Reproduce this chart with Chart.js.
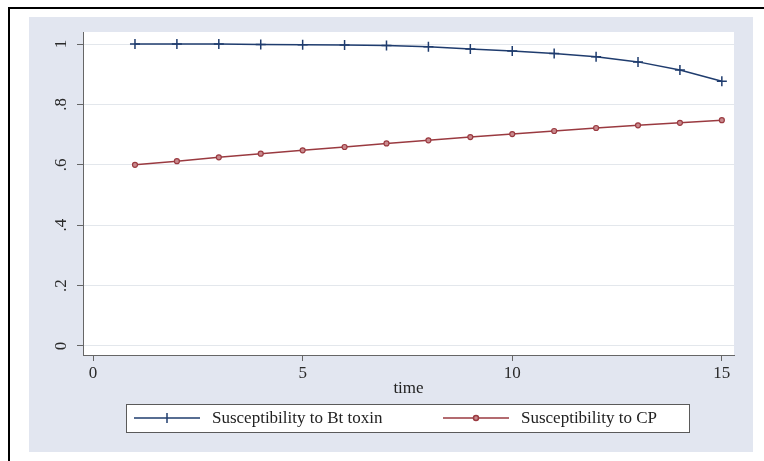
<!DOCTYPE html>
<html>
<head>
<meta charset="utf-8">
<script src="https://cdn.jsdelivr.net/npm/chart.js@4.4.1/dist/chart.umd.min.js"></script>
<style>
  html, body { margin: 0; padding: 0; background: #ffffff; }
  #wrap { width: 764px; height: 461px; }
</style>
</head>
<body>
<div id="wrap"><canvas id="c" width="764" height="461"></canvas></div>
<script>
// Time steps and the two susceptibility series
const time = [1, 2, 3, 4, 5, 6, 7, 8, 9, 10, 11, 12, 13, 14, 15];
const btToxin = [1.000, 1.000, 1.000, 0.999, 0.998, 0.997, 0.995, 0.991, 0.984, 0.977, 0.969, 0.958, 0.941, 0.914, 0.877];
const cpSusc = [0.600, 0.612, 0.625, 0.637, 0.648, 0.659, 0.671, 0.681, 0.692, 0.702, 0.712, 0.722, 0.731, 0.739, 0.748];

const seriesLabels = ['Susceptibility to Bt toxin', 'Susceptibility to CP'];
const xTicks = [0, 5, 10, 15];
const yTicks = [0, 0.2, 0.4, 0.6, 0.8, 1];
const yTickText = ['0', '.2', '.4', '.6', '.8', '1'];
const xTitle = 'time';

const NAVY = '#1f3c6e';
const MAROON = '#9a3a40';
const REGION = '#e2e6f0';
const SERIF = '"Liberation Serif", "Times New Roman", serif';

// Page frame, outer region and white plot area
const backdrop = {
  id: 'backdrop',
  beforeDraw(chart) {
    const ctx = chart.ctx;
    const a = chart.chartArea;
    ctx.save();
    ctx.fillStyle = '#ffffff';
    ctx.fillRect(0, 0, chart.width, chart.height);
    ctx.strokeStyle = '#000000';
    ctx.lineWidth = 2;
    ctx.beginPath();
    ctx.moveTo(9, chart.height);
    ctx.lineTo(9, 8);
    ctx.lineTo(chart.width, 8);
    ctx.stroke();
    ctx.fillStyle = REGION;
    ctx.fillRect(29, 17, 724, 435);
    ctx.fillStyle = '#ffffff';
    ctx.fillRect(a.left, a.top, a.right - a.left, a.bottom - a.top);
    ctx.restore();
  }
};

// Boxed legend below the axis, built from the dataset styles
const boxedLegend = {
  id: 'boxedLegend',
  afterDraw(chart) {
    const ctx = chart.ctx;
    const box = { x: 126, y: 404, w: 563, h: 28 };
    ctx.save();
    ctx.fillStyle = '#ffffff';
    ctx.fillRect(box.x, box.y, box.w, box.h);
    ctx.strokeStyle = '#5a5a5a';
    ctx.lineWidth = 1;
    ctx.strokeRect(box.x + 0.5, box.y + 0.5, box.w, box.h);
    const cy = box.y + box.h / 2;
    const starts = [134, 443];
    chart.data.datasets.forEach((ds, i) => {
      const x0 = starts[i];
      const x1 = x0 + 66;
      ctx.strokeStyle = ds.borderColor;
      ctx.lineWidth = 1.5;
      ctx.beginPath();
      ctx.moveTo(x0, cy);
      ctx.lineTo(x1, cy);
      ctx.stroke();
      const mx = (x0 + x1) / 2;
      if (ds.pointStyle === 'cross') {
        ctx.beginPath();
        ctx.moveTo(mx, cy - 5);
        ctx.lineTo(mx, cy + 5);
        ctx.stroke();
      } else {
        ctx.fillStyle = ds.pointBackgroundColor;
        ctx.beginPath();
        ctx.arc(mx, cy, 2.5, 0, Math.PI * 2);
        ctx.fill();
        ctx.stroke();
      }
      ctx.fillStyle = '#222222';
      ctx.font = '17px ' + SERIF;
      ctx.textBaseline = 'middle';
      ctx.textAlign = 'left';
      ctx.fillText(ds.label, x1 + 12, cy + 1);
    });
    ctx.restore();
  }
};

const toPoints = (xs, ys) => xs.map((x, i) => ({ x: x, y: ys[i] }));

new Chart(document.getElementById('c'), {
  type: 'line',
  data: {
    datasets: [
      {
        label: seriesLabels[0],
        data: toPoints(time, btToxin),
        borderColor: NAVY,
        borderWidth: 1.5,
        pointStyle: 'cross',
        pointRadius: 5,
        pointBorderWidth: 1.5,
        pointBorderColor: NAVY,
        pointBackgroundColor: NAVY,
        tension: 0
      },
      {
        label: seriesLabels[1],
        data: toPoints(time, cpSusc),
        borderColor: MAROON,
        borderWidth: 1.5,
        pointStyle: 'circle',
        pointRadius: 2.5,
        pointBorderWidth: 1.2,
        pointBorderColor: MAROON,
        pointBackgroundColor: '#c98a8e',
        tension: 0
      }
    ]
  },
  options: {
    responsive: false,
    animation: false,
    devicePixelRatio: 1,
    layout: { padding: { left: 29, right: 30, top: 32, bottom: 62 } },
    plugins: {
      legend: { display: false },
      tooltip: { enabled: false }
    },
    scales: {
      x: {
        type: 'linear',
        min: -0.24,
        max: 15.29,
        afterBuildTicks(scale) { scale.ticks = xTicks.map(v => ({ value: v })); },
        afterFit(scale) { scale.height = 44; },
        border: { display: true, color: '#666666', width: 1 },
        grid: { drawOnChartArea: false, drawTicks: true, tickLength: 6, tickColor: '#666666' },
        ticks: {
          color: '#2a2a2a',
          font: { family: SERIF, size: 17 },
          padding: 2,
          maxRotation: 0,
          minRotation: 0
        },
        title: {
          display: true,
          text: xTitle,
          color: '#222222',
          font: { family: SERIF, size: 17 },
          padding: { top: 0, bottom: 0 }
        }
      },
      y: {
        type: 'linear',
        min: -0.03,
        max: 1.04,
        afterBuildTicks(scale) { scale.ticks = yTicks.map(v => ({ value: v })); },
        afterFit(scale) { scale.width = 54; },
        border: { display: true, color: '#666666', width: 1 },
        grid: { color: '#e3e7ec', lineWidth: 1, drawTicks: true, tickLength: 6, tickColor: '#666666' },
        ticks: {
          color: '#2a2a2a',
          font: { family: SERIF, size: 17 },
          minRotation: 90,
          maxRotation: 90,
          crossAlign: 'center',
          padding: 9,
          callback(value) {
            const i = yTicks.findIndex(t => Math.abs(t - value) < 1e-9);
            return i >= 0 ? yTickText[i] : '';
          }
        }
      }
    }
  },
  plugins: [backdrop, boxedLegend]
});
</script>
</body>
</html>
